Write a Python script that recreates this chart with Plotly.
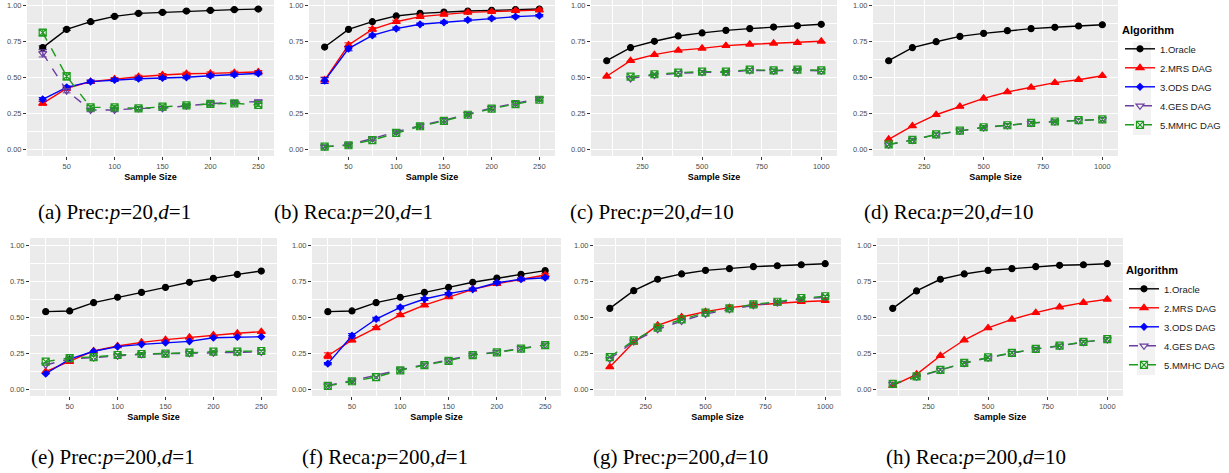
import plotly.graph_objects as go

W, H = 1229, 473

# ---------------- data ----------------
n_small = [25, 50, 75, 100, 125, 150, 175, 200, 225, 250]
n_large = [100, 200, 300, 400, 500, 600, 700, 800, 900, 1000]
algorithms = ["1.Oracle", "2.MRS DAG", "3.ODS DAG", "4.GES DAG", "5.MMHC DAG"]

# (a) Precision p=20, d=1
a_oracle = [0.704, 0.831, 0.884, 0.921, 0.942, 0.949, 0.958, 0.963, 0.968, 0.972]
a_mrs    = [0.317, 0.421, 0.468, 0.486, 0.502, 0.514, 0.523, 0.525, 0.530, 0.535]
a_ods    = [0.345, 0.428, 0.468, 0.479, 0.488, 0.493, 0.498, 0.509, 0.516, 0.525]
a_ges    = [0.664, 0.405, 0.271, 0.271, 0.282, 0.282, 0.300, 0.315, 0.324, 0.329]
a_mmhc   = [0.808, 0.505, 0.289, 0.289, 0.282, 0.294, 0.303, 0.313, 0.317, 0.306]
a_err_oracle = [0.012, 0.008, 0.008, 0.006, 0.006, 0.006, 0.005, 0.005, 0.005, 0.005]
a_err_mrs    = [0.012, 0.010, 0.010, 0.010, 0.010, 0.010, 0.010, 0.010, 0.010, 0.010]
a_err_ods    = [0.012, 0.010, 0.010, 0.010, 0.010, 0.010, 0.010, 0.010, 0.010, 0.010]
a_err_ges    = [0.025, 0.015, 0.012, 0.012, 0.010, 0.012, 0.010, 0.010, 0.010, 0.010]
a_err_mmhc   = [0.020, 0.025, 0.012, 0.012, 0.010, 0.012, 0.010, 0.010, 0.010, 0.010]

# (b) Recall p=20, d=1
b_oracle = [0.708, 0.831, 0.884, 0.924, 0.942, 0.951, 0.958, 0.963, 0.968, 0.972]
b_mrs    = [0.479, 0.722, 0.831, 0.884, 0.919, 0.935, 0.949, 0.954, 0.961, 0.965]
b_ods    = [0.475, 0.697, 0.789, 0.836, 0.866, 0.880, 0.896, 0.907, 0.919, 0.926]
b_ges    = [0.016, 0.030, 0.072, 0.120, 0.162, 0.199, 0.242, 0.284, 0.318, 0.348]
b_mmhc   = [0.016, 0.026, 0.062, 0.112, 0.158, 0.195, 0.238, 0.280, 0.312, 0.342]
b_err_mrs = [0.020, 0.015, 0.012, 0.010, 0.010, 0.010, 0.008, 0.008, 0.008, 0.008]
b_err_ods = [0.020, 0.015, 0.010, 0.010, 0.008, 0.008, 0.008, 0.008, 0.008, 0.008]
b_err_ges = [0.008, 0.010, 0.012, 0.012, 0.012, 0.012, 0.012, 0.012, 0.012, 0.012]

# (c) Precision p=20, d=10
c_oracle = [0.613, 0.704, 0.748, 0.785, 0.806, 0.824, 0.836, 0.847, 0.856, 0.866]
c_mrs    = [0.505, 0.613, 0.655, 0.685, 0.699, 0.718, 0.727, 0.734, 0.738, 0.748]
c_ges    = [None, 0.490, 0.514, 0.525, 0.532, 0.532, 0.546, 0.543, 0.548, 0.543]
c_mmhc   = [None, 0.502, 0.519, 0.530, 0.537, 0.537, 0.551, 0.546, 0.551, 0.546]

# (d) Recall p=20, d=10
d_oracle = [0.613, 0.704, 0.745, 0.782, 0.803, 0.822, 0.836, 0.845, 0.854, 0.863]
d_mrs    = [0.067, 0.160, 0.238, 0.296, 0.352, 0.396, 0.428, 0.461, 0.481, 0.509]
d_ges    = [0.030, 0.062, 0.100, 0.127, 0.150, 0.164, 0.180, 0.190, 0.199, 0.206]
d_mmhc   = [0.032, 0.063, 0.101, 0.128, 0.151, 0.165, 0.181, 0.191, 0.200, 0.206]

# (e) Precision p=200, d=1
e_oracle = [0.537, 0.542, 0.600, 0.637, 0.671, 0.706, 0.741, 0.769, 0.796, 0.819]
e_mrs    = [0.120, 0.190, 0.264, 0.299, 0.324, 0.343, 0.359, 0.375, 0.387, 0.398]
e_ods    = [0.106, 0.208, 0.262, 0.294, 0.310, 0.322, 0.331, 0.356, 0.361, 0.363]
e_ges    = [0.167, 0.208, 0.218, 0.231, 0.241, 0.245, 0.248, 0.252, 0.255, 0.257]
e_mmhc   = [0.190, 0.215, 0.222, 0.236, 0.243, 0.245, 0.252, 0.259, 0.259, 0.264]

# (f) Recall p=200, d=1
f_oracle = [0.537, 0.542, 0.600, 0.637, 0.671, 0.706, 0.741, 0.771, 0.796, 0.822]
f_mrs    = [0.231, 0.340, 0.424, 0.514, 0.583, 0.639, 0.692, 0.731, 0.762, 0.792]
f_ods    = [0.176, 0.370, 0.486, 0.567, 0.625, 0.662, 0.692, 0.738, 0.762, 0.773]
f_ges    = [0.024, 0.058, 0.095, 0.134, 0.168, 0.198, 0.237, 0.256, 0.283, 0.307]
f_mmhc   = [0.022, 0.054, 0.083, 0.130, 0.166, 0.196, 0.235, 0.254, 0.281, 0.305]
f_err_mrs = [0.020, 0.012, 0.010, 0.010, 0.010, 0.008, 0.008, 0.008, 0.008, 0.008]
f_err_ods = [0.008, 0.015, 0.012, 0.010, 0.010, 0.008, 0.008, 0.008, 0.008, 0.008]

# (g) Precision p=200, d=10
g_oracle = [0.560, 0.683, 0.762, 0.799, 0.824, 0.836, 0.850, 0.856, 0.863, 0.870]
g_mrs    = [0.153, 0.324, 0.442, 0.500, 0.537, 0.565, 0.583, 0.595, 0.606, 0.613]
g_ges    = [0.208, 0.329, 0.414, 0.472, 0.521, 0.553, 0.581, 0.600, 0.625, 0.637]
g_mmhc   = [0.222, 0.338, 0.426, 0.484, 0.530, 0.560, 0.588, 0.606, 0.632, 0.644]

# (h) Recall p=200, d=10
h_oracle = [0.560, 0.681, 0.762, 0.799, 0.824, 0.836, 0.850, 0.859, 0.863, 0.870]
h_mrs    = [0.023, 0.102, 0.231, 0.340, 0.424, 0.484, 0.530, 0.569, 0.600, 0.623]
h_ges    = [0.034, 0.085, 0.131, 0.179, 0.217, 0.249, 0.277, 0.299, 0.325, 0.344]
h_mmhc   = [0.036, 0.087, 0.133, 0.181, 0.219, 0.251, 0.279, 0.301, 0.327, 0.346]

captions = [
    "(a) Prec:<i>p</i>=20,<i>d</i>=1", "(b) Reca:<i>p</i>=20,<i>d</i>=1",
    "(c) Prec:<i>p</i>=20,<i>d</i>=10", "(d) Reca:<i>p</i>=20,<i>d</i>=10",
    "(e) Prec:<i>p</i>=200,<i>d</i>=1", "(f) Reca:<i>p</i>=200,<i>d</i>=1",
    "(g) Prec:<i>p</i>=200,<i>d</i>=10", "(h) Reca:<i>p</i>=200,<i>d</i>=10",
]
y_ticks = [0, 0.25, 0.5, 0.75, 1.0]
y_ticklabels = ["0.00", "0.25", "0.50", "0.75", "1.00"]

# ---------------- styles / layout geometry ----------------
STYLE = {
    "1.Oracle":   dict(color="#000000", symbol="circle", size=6, dash="solid"),
    "2.MRS DAG":  dict(color="#FF0000", symbol="triangle-up", size=7, dash="solid"),
    "3.ODS DAG":  dict(color="#0000FF", symbol="diamond", size=5, dash="solid"),
    "4.GES DAG":  dict(color="#6B3FA0", symbol="triangle-down-open", size=7, dash="dash"),
    "5.MMHC DAG": dict(color="#1E9A1E", symbol="square-x-open", size=7, dash="dash"),
}

# pixel boxes of panels: (x0, x1, y0, y1)
panels_px = [
    (27, 274, 0, 156), (309, 555, 0, 156), (591, 837, 0, 156), (873, 1118, 0, 156),
    (30, 277, 238, 396), (312, 561, 238, 396), (594, 841, 238, 396), (877, 1123, 238, 396),
]
yranges = [[-0.0486, 1.0347]] * 4 + [[-0.0486, 1.0486]] * 4
caption_pos = [(36, 212), (272, 212), (568, 212), (862, 212),
               (29, 457), (300, 457), (591, 457), (884, 457)]

panel_data = [
    (n_small, [(a_oracle, a_err_oracle), (a_mrs, a_err_mrs), (a_ods, a_err_ods), (a_ges, a_err_ges), (a_mmhc, a_err_mmhc)]),
    (n_small, [(b_oracle, None), (b_mrs, b_err_mrs), (b_ods, b_err_ods), (b_ges, b_err_ges), (b_mmhc, None)]),
    (n_large, [(c_oracle, None), (c_mrs, None), None, (c_ges, None), (c_mmhc, None)]),
    (n_large, [(d_oracle, None), (d_mrs, None), None, (d_ges, None), (d_mmhc, None)]),
    (n_small, [(e_oracle, None), (e_mrs, None), (e_ods, None), (e_ges, None), (e_mmhc, None)]),
    (n_small, [(f_oracle, None), (f_mrs, f_err_mrs), (f_ods, f_err_ods), (f_ges, None), (f_mmhc, None)]),
    (n_large, [(g_oracle, None), (g_mrs, None), None, (g_ges, None), (g_mmhc, None)]),
    (n_large, [(h_oracle, None), (h_mrs, None), None, (h_ges, None), (h_mmhc, None)]),
]

legend_source = {0: {"1.Oracle": 3, "2.MRS DAG": 3, "3.ODS DAG": 0, "4.GES DAG": 3, "5.MMHC DAG": 3},
                 1: {"1.Oracle": 7, "2.MRS DAG": 7, "3.ODS DAG": 4, "4.GES DAG": 7, "5.MMHC DAG": 7}}

fig = go.Figure()
layout = {}
FONT = "Liberation Sans, Arial, sans-serif"

for i, (x0, x1, y0, y1) in enumerate(panels_px):
    k = "" if i == 0 else str(i + 1)
    xs, series = panel_data[i]
    row = 0 if i < 4 else 1
    large = xs is n_large
    for j, algo in enumerate(algorithms):
        if series[j] is None:
            continue
        ys, err = series[j]
        st = STYLE[algo]
        show = legend_source[row][algo] == i
        tr = go.Scatter(
            x=xs, y=ys, mode="lines+markers", name=algo,
            xaxis="x" + k, yaxis="y" + k,
            line=dict(color=st["color"], width=1.4, dash=st["dash"]),
            marker=dict(color=st["color"], symbol=st["symbol"], size=st["size"],
                        line=dict(color=st["color"], width=1.2)),
            showlegend=show, legend="legend" if row == 0 else "legend2",
            legendrank=j + 1,
        )
        if err is not None:
            tr.error_y = dict(type="data", array=err, visible=True, color=st["color"],
                              thickness=1, width=4)
        fig.add_trace(tr)

    xr = [34, 1066] if large else [8.6, 266.4]
    layout["xaxis" + k] = dict(
        domain=[x0 / W, x1 / W], anchor="y" + k, range=xr, automargin=False,
        tickmode="array",
        tickvals=[250, 500, 750, 1000] if large else [50, 100, 150, 200, 250],
        ticks="outside", ticklen=3, tickwidth=1, tickcolor="#333333",
        tickfont=dict(family=FONT, size=7.5, color="#4D4D4D"),
        showgrid=True, gridcolor="#FFFFFF", gridwidth=1.1,
        minor=dict(tickvals=[125, 375, 625, 875] if large else [25, 75, 125, 175, 225],
                   showgrid=True, gridcolor="#FFFFFF", gridwidth=0.5, ticks=""),
        zeroline=False, showline=False,
        title=dict(text="<b>Sample Size</b>", font=dict(family=FONT, size=9, color="#000000"),
                   standoff=3),
    )
    layout["yaxis" + k] = dict(
        domain=[1 - y1 / H, 1 - y0 / H], anchor="x" + k, range=yranges[i], automargin=False,
        tickmode="array", tickvals=y_ticks, ticktext=y_ticklabels,
        ticks="outside", ticklen=3, tickwidth=1, tickcolor="#333333",
        tickfont=dict(family=FONT, size=7.5, color="#4D4D4D"),
        showgrid=True, gridcolor="#FFFFFF", gridwidth=1.1,
        minor=dict(tickvals=[0.125, 0.375, 0.625, 0.875], showgrid=True,
                   gridcolor="#FFFFFF", gridwidth=0.5, ticks=""),
        zeroline=False, showline=False,
    )

annotations = []
for (cx, cy), txt in zip(caption_pos, captions):
    annotations.append(dict(
        text=txt, x=cx / W, y=1 - cy / H, xref="paper", yref="paper",
        xanchor="left", yanchor="middle", showarrow=False,
        font=dict(family="Liberation Serif, Times New Roman, serif", size=21, color="#000000"),
    ))

shapes = [
    dict(type="rect", xref="paper", yref="paper", layer="below",
         x0=1133 / W, x1=1151 / W, y0=1 - 135 / H, y1=1 - 42 / H,
         fillcolor="#F2F2F2", line=dict(width=0)),
    dict(type="rect", xref="paper", yref="paper", layer="below",
         x0=1137 / W, x1=1155 / W, y0=1 - 375 / H, y1=1 - 282 / H,
         fillcolor="#F2F2F2", line=dict(width=0)),
]

leg_common = dict(
    bgcolor="rgba(0,0,0,0)", borderwidth=0,
    font=dict(family=FONT, size=9.5, color="#1A1A1A"),
    title=dict(text="<b>Algorithm</b>", font=dict(family=FONT, size=11, color="#000000")),
    xanchor="left", yanchor="top", traceorder="normal", itemwidth=30,
)
layout["legend"] = dict(x=1120 / W, y=1 - 20 / H, **leg_common)
layout["legend2"] = dict(x=1124 / W, y=1 - 260 / H, **leg_common)

fig.update_layout(
    width=W, height=H, margin=dict(l=0, r=0, t=0, b=0, pad=0, autoexpand=False),
    paper_bgcolor="#FFFFFF", plot_bgcolor="#EBEBEB",
    annotations=annotations, shapes=shapes, **layout,
)

fig.write_html("out.html", config={"displayModeBar": False},
               post_script="document.body.style.margin='0';document.body.style.overflow='hidden';")
